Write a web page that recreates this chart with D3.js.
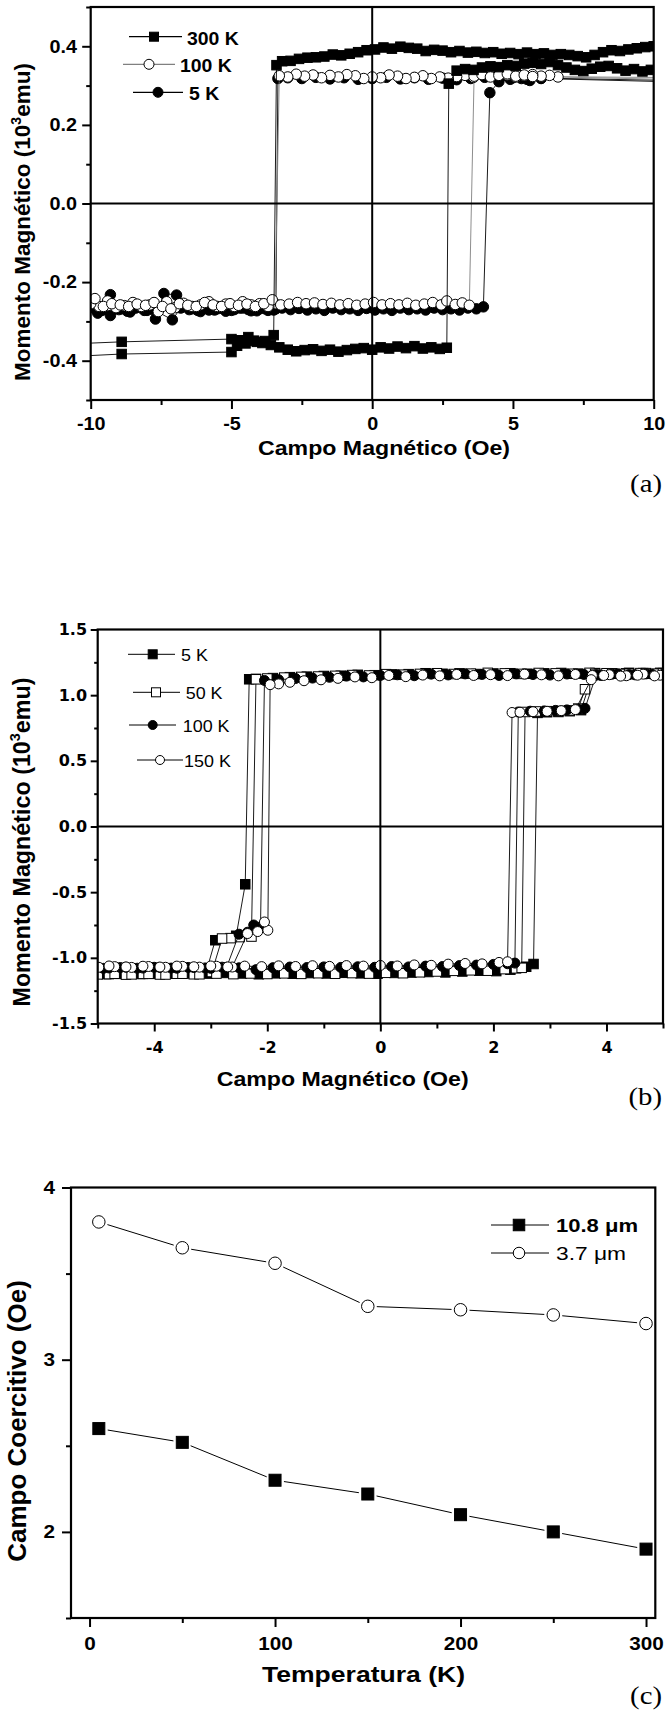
<!DOCTYPE html>
<html>
<head>
<meta charset="utf-8">
<script src="https://cdn.jsdelivr.net/npm/d3@7"></script>
<style>
  body { margin: 0; background: #fff; }
</style>
</head>
<body>
<div id="fig"></div>
<script>

// ---------- data ----------
// (a) loops, field H (Oe) vs moment (10^3 emu), points in measuring order
var a300K = [
  [10.4,0.401],[10.0,0.400],[9.7,0.398],[9.4,0.395],[9.1,0.392],[8.8,0.388],[8.5,0.390],[8.2,0.385],[7.9,0.378],[7.6,0.372],
  [7.3,0.375],[7.0,0.378],[6.7,0.380],[6.4,0.378],[6.1,0.382],[5.8,0.380],[5.5,0.384],[5.2,0.380],[4.9,0.383],[4.6,0.381],
  [4.3,0.385],[4.0,0.383],[3.7,0.386],[3.4,0.384],[3.1,0.388],[2.8,0.385],[2.5,0.389],[2.2,0.391],[1.9,0.388],[1.6,0.394],
  [1.3,0.396],[1.0,0.399],[0.7,0.394],[0.4,0.397],[0.1,0.392],[-0.2,0.390],[-0.5,0.385],[-0.8,0.381],[-1.1,0.377],[-1.4,0.379],
  [-1.7,0.374],[-2.0,0.372],[-2.3,0.371],[-2.6,0.368],[-2.9,0.363],[-3.2,0.362],[-3.4,0.352],
  [-3.5,-0.335],[-3.8,-0.350],[-4.1,-0.352],[-4.4,-0.340],[-4.7,-0.348],[-5.0,-0.345],[-8.9,-0.352],[-10.6,-0.357],
  [-10.6,-0.389],[-8.9,-0.383],[-5.0,-0.378],[-4.8,-0.362],[-4.5,-0.356],[-4.2,-0.349],[-3.9,-0.355],[-3.6,-0.360],[-3.3,-0.366],
  [-3.0,-0.372],[-2.7,-0.376],[-2.4,-0.373],[-2.1,-0.371],[-1.8,-0.375],[-1.5,-0.372],[-1.2,-0.377],[-0.9,-0.373],[-0.6,-0.370],
  [-0.3,-0.368],[0.0,-0.372],[0.3,-0.366],[0.6,-0.369],[0.9,-0.364],[1.2,-0.368],[1.5,-0.363],[1.8,-0.369],[2.1,-0.366],
  [2.4,-0.370],[2.65,-0.367],
  [2.72,0.305],[3.0,0.338],[3.3,0.342],[3.6,0.340],[3.9,0.346],[4.2,0.349],[4.5,0.347],[4.8,0.352],[5.1,0.350],[5.4,0.356],
  [5.7,0.358],[6.0,0.355],[6.3,0.360],[6.6,0.352],[6.9,0.346],[7.2,0.340],[7.5,0.337],[7.8,0.343],[8.1,0.348],[8.4,0.350],
  [8.7,0.344],[9.0,0.338],[9.3,0.342],[9.6,0.336],[9.9,0.340],[10.3,0.330]
];
var a100K = [
  [11.5,0.314],[6.6,0.322],[6.3,0.326],[6.0,0.324],[5.7,0.328],[5.4,0.325],[5.1,0.322],[4.8,0.327],[4.5,0.329],[4.2,0.324],
  [3.9,0.330],[3.6,0.321],[3.3,0.326],[3.0,0.323],[2.7,0.319],[2.4,0.322],[2.1,0.318],[1.8,0.325],[1.5,0.321],[1.2,0.318],
  [0.9,0.324],[0.6,0.327],[0.3,0.320],[0.0,0.322],[-0.3,0.318],[-0.6,0.325],[-0.9,0.328],[-1.2,0.322],[-1.5,0.326],
  [-1.8,0.320],[-2.1,0.327],[-2.4,0.324],[-2.7,0.329],[-3.0,0.322],[-3.3,0.325],
  [-3.45,-0.255],[-3.7,-0.262],[-4.0,-0.255],[-4.3,-0.258],[-4.6,-0.250],[-4.9,-0.262],[-5.2,-0.256],[-5.5,-0.262],[-5.8,-0.250],
  [-6.1,-0.258],[-6.4,-0.262],[-6.7,-0.254],[-7.0,-0.265],[-7.3,-0.250],[-7.6,-0.275],[-7.9,-0.258],[-8.2,-0.262],[-8.5,-0.252],
  [-8.8,-0.260],[-9.1,-0.265],[-9.4,-0.248],[-9.7,-0.262],[-10.0,-0.255],
  [-9.85,-0.242],[-9.55,-0.262],[-9.25,-0.255],[-8.95,-0.258],[-8.65,-0.262],[-8.35,-0.256],[-8.05,-0.259],[-7.75,-0.252],
  [-7.45,-0.262],[-7.15,-0.268],[-6.85,-0.255],[-6.55,-0.259],[-6.25,-0.262],[-5.95,-0.252],[-5.65,-0.258],[-5.35,-0.262],
  [-5.05,-0.255],[-4.75,-0.259],[-4.45,-0.256],[-4.15,-0.262],[-3.85,-0.255],[-3.55,-0.245],[-3.25,-0.258],[-2.95,-0.256],
  [-2.65,-0.252],[-2.35,-0.255],[-2.05,-0.253],[-1.75,-0.257],[-1.45,-0.254],[-1.15,-0.258],[-0.85,-0.255],[-0.55,-0.259],
  [-0.25,-0.256],[0.05,-0.252],[0.35,-0.258],[0.65,-0.255],[0.95,-0.258],[1.25,-0.254],[1.55,-0.259],[1.85,-0.256],
  [2.15,-0.252],[2.45,-0.258],[2.65,-0.248],[2.95,-0.257],[3.2,-0.253],[3.45,-0.259],
  [3.62,0.324],[3.9,0.328],[4.2,0.322],[4.5,0.326],[4.8,0.330],[5.1,0.324],[5.4,0.327],[5.7,0.323],[11.5,0.320]
];
var a5K = [
  [11.5,0.308],[6.0,0.318],[5.5,0.316],[5.0,0.320],[4.5,0.317],[4.0,0.321],[3.5,0.318],[3.0,0.315],[2.5,0.319],[2.0,0.316],
  [1.5,0.320],[1.0,0.317],[0.5,0.321],[0.0,0.318],[-0.5,0.316],[-1.0,0.320],[-1.5,0.317],[-2.0,0.321],[-2.5,0.318],
  [-3.0,0.320],[-3.35,0.318],
  [-3.42,-0.268],[-3.7,-0.272],[-4.0,-0.268],[-4.3,-0.273],[-4.6,-0.266],[-4.9,-0.270],[-5.2,-0.274],[-5.5,-0.268],
  [-5.8,-0.271],[-6.1,-0.275],[-6.4,-0.268],[-6.7,-0.262],[-6.95,-0.233],[-7.4,-0.229],[-7.7,-0.294],[-8.0,-0.272],
  [-8.3,-0.262],[-8.6,-0.276],[-8.9,-0.268],[-9.3,-0.232],[-9.6,-0.272],[-9.9,-0.266],
  [-9.75,-0.279],[-9.3,-0.285],[-9.0,-0.270],[-8.7,-0.274],[-8.4,-0.266],[-8.1,-0.272],[-7.8,-0.269],[-7.1,-0.296],
  [-6.8,-0.266],[-6.5,-0.270],[-6.2,-0.272],[-5.9,-0.266],[-5.6,-0.271],[-5.3,-0.268],[-5.0,-0.272],[-4.7,-0.266],
  [-4.4,-0.270],[-4.1,-0.273],[-3.8,-0.268],[-3.5,-0.271],[-3.2,-0.266],[-2.9,-0.270],[-2.6,-0.267],[-2.3,-0.271],
  [-2.0,-0.268],[-1.7,-0.272],[-1.4,-0.266],[-1.1,-0.270],[-0.8,-0.268],[-0.5,-0.272],[-0.2,-0.267],[0.1,-0.271],
  [0.4,-0.268],[0.7,-0.272],[1.0,-0.266],[1.3,-0.270],[1.6,-0.268],[1.9,-0.271],[2.2,-0.266],[2.5,-0.270],[2.8,-0.268],
  [3.1,-0.271],[3.4,-0.266],[3.7,-0.268],[3.95,-0.263],
  [4.18,0.282],[4.5,0.310],[4.9,0.316],[5.3,0.318],[5.6,0.313],[6.0,0.319],[11.5,0.312]
];

// (b) loops
var b5K = [
  [5.0,1.168],[4.7,1.165],[4.4,1.170],[4.1,1.166],[3.8,1.168],[3.5,1.164],[3.2,1.169],[2.9,1.166],[2.6,1.163],[2.3,1.167],
  [2.0,1.165],[1.7,1.161],[1.4,1.166],[1.1,1.163],[0.8,1.167],[0.5,1.160],[0.2,1.158],[-0.1,1.152],[-0.4,1.155],[-0.7,1.148],
  [-1.0,1.146],[-1.3,1.141],[-1.6,1.137],[-1.9,1.130],[-2.2,1.124],[-2.32,1.121],
  [-2.39,-0.440],[-2.55,-0.832],[-2.92,-0.866],[-3.08,-1.105],[-3.4,-1.118],[-3.7,-1.114],[-4.0,-1.120],[-4.3,-1.116],
  [-4.6,-1.122],[-4.9,-1.118],
  [-4.85,-1.124],[-4.55,-1.119],[-4.25,-1.123],[-3.95,-1.117],[-3.65,-1.121],[-3.35,-1.116],[-3.05,-1.120],[-2.75,-1.115],
  [-2.45,-1.119],[-2.15,-1.125],[-1.85,-1.118],[-1.55,-1.121],[-1.25,-1.116],[-0.95,-1.119],[-0.65,-1.114],[-0.35,-1.118],
  [-0.05,-1.121],[0.25,-1.115],[0.55,-1.112],[0.85,-1.108],[1.15,-1.111],[1.45,-1.104],[1.75,-1.098],[2.05,-1.101],
  [2.3,-1.090],[2.58,-1.068],[2.71,-1.047],
  [2.78,0.865],[2.95,0.870],[3.15,0.872],[3.35,0.878],[3.55,0.886],[3.75,1.150],[4.05,1.163],[4.35,1.166],[4.65,1.168],[4.95,1.170]
];
var b50K = [
  [4.9,1.164],[4.6,1.168],[4.3,1.162],[4.0,1.167],[3.7,1.170],[3.4,1.163],[3.1,1.166],[2.8,1.169],[2.5,1.162],[2.2,1.166],
  [1.9,1.170],[1.6,1.164],[1.3,1.161],[1.0,1.167],[0.7,1.162],[0.4,1.156],[0.1,1.160],[-0.2,1.150],[-0.5,1.153],[-0.8,1.147],
  [-1.1,1.142],[-1.4,1.139],[-1.7,1.134],[-2.0,1.127],[-2.2,1.121],
  [-2.28,-0.838],[-2.49,-0.842],[-2.65,-0.850],[-2.8,-0.853],[-2.98,-1.108],[-3.3,-1.125],[-3.6,-1.121],[-3.9,-1.127],
  [-4.2,-1.122],[-4.5,-1.128],[-4.8,-1.124],[-5.0,-1.126],
  [-4.7,-1.121],[-4.4,-1.126],[-4.1,-1.122],[-3.8,-1.127],[-3.5,-1.121],[-3.2,-1.125],[-2.9,-1.120],[-2.6,-1.124],
  [-2.3,-1.119],[-2.0,-1.123],[-1.7,-1.118],[-1.4,-1.122],[-1.1,-1.117],[-0.8,-1.121],[-0.5,-1.116],[-0.2,-1.120],
  [0.1,-1.114],[0.4,-1.117],[0.7,-1.110],[1.0,-1.104],[1.3,-1.099],[1.6,-1.095],[1.9,-1.098],[2.2,-1.086],[2.4,-1.080],
  [2.5,-1.076],
  [2.56,0.872],[2.75,0.876],[2.95,0.878],[3.15,0.880],[3.35,0.884],[3.5,0.898],[3.62,1.045],[3.8,1.162],[4.1,1.166],
  [4.4,1.163],[4.7,1.168],[5.0,1.166]
];
var b100K = [
  [4.8,1.160],[4.5,1.155],[4.2,1.162],[3.9,1.150],[3.6,1.158],[3.3,1.161],[3.0,1.153],[2.7,1.157],[2.4,1.162],[2.1,1.150],
  [1.8,1.158],[1.5,1.162],[1.2,1.154],[0.9,1.160],[0.6,1.148],[0.3,1.155],[0.0,1.150],[-0.3,1.139],[-0.6,1.145],[-0.9,1.136],
  [-1.2,1.130],[-1.5,1.127],[-1.8,1.118],[-2.05,1.112],
  [-2.12,-0.765],[-2.24,-0.750],[-2.35,-0.805],[-2.5,-0.820],[-2.72,-1.072],[-3.0,-1.080],[-3.3,-1.074],[-3.6,-1.079],
  [-3.9,-1.073],[-4.2,-1.078],[-4.5,-1.072],[-4.8,-1.077],
  [-4.9,-1.080],[-4.6,-1.074],[-4.3,-1.079],[-4.0,-1.072],[-3.7,-1.078],[-3.4,-1.073],[-3.1,-1.077],[-2.8,-1.071],
  [-2.5,-1.076],[-2.2,-1.090],[-1.9,-1.075],[-1.6,-1.070],[-1.3,-1.074],[-1.0,-1.069],[-0.7,-1.073],[-0.4,-1.068],
  [-0.1,-1.072],[0.2,-1.066],[0.5,-1.069],[0.8,-1.063],[1.1,-1.066],[1.4,-1.059],[1.7,-1.055],[2.0,-1.050],[2.25,-1.045],
  [2.38,-1.040],
  [2.44,0.872],[2.65,0.878],[2.9,0.880],[3.1,0.884],[3.3,0.888],[3.5,0.893],[3.62,0.900],[3.82,1.155],[4.1,1.160],
  [4.4,1.156],[4.7,1.162],[5.0,1.158]
];
var b150K = [
  [4.95,1.152],[4.65,1.160],[4.35,1.148],[4.05,1.156],[3.75,1.150],[3.45,1.158],[3.15,1.147],[2.85,1.155],[2.55,1.160],
  [2.25,1.149],[1.95,1.156],[1.65,1.150],[1.35,1.158],[1.05,1.147],[0.75,1.153],[0.45,1.141],[0.15,1.150],[-0.15,1.133],
  [-0.45,1.139],[-0.75,1.128],[-1.05,1.117],[-1.35,1.110],[-1.6,1.098],[-1.8,1.086],[-1.95,1.080],
  [-1.99,-0.790],[-2.05,-0.727],[-2.17,-0.800],[-2.35,-0.815],[-2.62,-1.070],[-2.9,-1.064],[-3.2,-1.071],[-3.5,-1.065],
  [-3.8,-1.072],[-4.1,-1.066],[-4.4,-1.073],[-4.7,-1.067],[-4.98,-1.072],
  [-4.8,-1.062],[-4.5,-1.069],[-4.2,-1.064],[-3.9,-1.070],[-3.6,-1.063],[-3.3,-1.068],[-3.0,-1.062],[-2.7,-1.069],
  [-2.4,-1.063],[-2.1,-1.067],[-1.8,-1.061],[-1.5,-1.066],[-1.2,-1.060],[-0.9,-1.065],[-0.6,-1.059],[-0.3,-1.063],
  [0.0,-1.058],[0.3,-1.062],[0.6,-1.054],[0.9,-1.057],[1.2,-1.048],[1.5,-1.043],[1.8,-1.046],[2.1,-1.035],[2.25,-1.030],
  [2.33,0.868],[2.47,0.870],[2.7,0.874],[2.95,0.877],[3.2,0.882],[3.45,0.890],[3.73,1.118],[3.95,1.150],[4.25,1.145],
  [4.55,1.152],[4.85,1.147]
];

// (c) coercive field vs temperature
var temps = [5, 50, 100, 150, 200, 250, 300];
var hc108 = [2.60, 2.52, 2.30, 2.22, 2.10, 2.00, 1.90];
var hc37 = [3.80, 3.65, 3.56, 3.31, 3.29, 3.26, 3.21];

var legendA = ["300 K", "100 K", "5 K"];
var legendB = ["5 K", "50 K", "100 K", "150 K"];
var legendC = ["10.8 \u03bcm", "3.7 \u03bcm"];

// ---------- helpers ----------
var SANS = "'Liberation Sans', Arial, Helvetica, sans-serif";

var svg = d3.select("#fig").append("svg")
  .attr("width", 667).attr("height", 1711)
  .style("background", "#fff");

// text with optional horizontal stretch and rotation
function label(g, str, x, y, o) {
  var tr = "translate(" + x + "," + y + ")";
  if (o.rot) tr += " rotate(" + o.rot + ")";
  if (o.sx) tr += " scale(" + o.sx + ",1)";
  var t = g.append("text")
    .attr("transform", tr)
    .attr("text-anchor", o.anchor || "start")
    .style("font-family", o.font || SANS)
    .style("font-size", o.size + "px")
    .style("font-weight", o.weight || "normal")
    .attr("fill", "#000");
  if (str !== null) t.text(str);
  if (o.len) t.attr("textLength", o.len).attr("lengthAdjust", "spacingAndGlyphs");
  return t;
}

function yTitle(g, x, y, size, pre, sup, post) {
  var t = label(g, null, x, y, {rot: -90, anchor: "middle", size: size, weight: "bold"});
  t.append("tspan").text(pre);
  if (sup) {
    t.append("tspan").text(sup).style("font-size", (size * 0.62) + "px").attr("dy", -size * 0.42);
    t.append("tspan").text(post).attr("dy", size * 0.42);
  }
}

function axes(g, x, y, c) {
  var x0 = x.range()[0], x1 = x.range()[1], y0 = y.range()[0], y1 = y.range()[1];

  g.append("g").attr("transform", "translate(0," + y0 + ")")
    .call(d3.axisBottom(x).tickValues(c.xMinor).tickSize(c.xMinorLen).tickFormat(""));
  var gx = g.append("g").attr("transform", "translate(0," + y0 + ")")
    .call(d3.axisBottom(x).tickValues(c.xMajor).tickSize(c.xMajorLen).tickPadding(c.xPad).tickFormat(c.xFmt));
  g.append("g").attr("transform", "translate(" + x0 + ",0)")
    .call(d3.axisLeft(y).tickValues(c.yMinor).tickSize(c.yMinorLen).tickFormat(""));
  var gy = g.append("g").attr("transform", "translate(" + x0 + ",0)")
    .call(d3.axisLeft(y).tickValues(c.yMajor).tickSize(c.yMajorLen).tickPadding(c.yPad).tickFormat(c.yFmt));

  g.selectAll(".domain").remove();
  g.selectAll(".tick line").attr("stroke", "#000").attr("stroke-width", 2);
  [gx, gy].forEach(function (a) {
    a.selectAll("text")
      .attr("fill", "#000")
      .style("font-family", c.font || SANS)
      .style("font-size", c.size + "px")
      .style("font-weight", "bold")
      .attr("transform", "scale(" + (c.sx || 1) + ",1)");
  });

  if (c.zero) {
    g.append("line").attr("x1", x0).attr("x2", x1).attr("y1", y(0)).attr("y2", y(0))
      .attr("stroke", "#000").attr("stroke-width", 2);
    g.append("line").attr("x1", x(0)).attr("x2", x(0)).attr("y1", y0).attr("y2", y1)
      .attr("stroke", "#000").attr("stroke-width", 2);
  }
  g.append("rect")
    .attr("x", x0).attr("y", y1).attr("width", x1 - x0).attr("height", y0 - y1)
    .attr("fill", "none").attr("stroke", "#000").attr("stroke-width", 2.2);
}

function marker(g, type, cx, cy, s) {
  if (type === "sq" || type === "osq") {
    g.append("rect").attr("x", cx - s / 2).attr("y", cy - s / 2).attr("width", s).attr("height", s)
      .attr("fill", type === "sq" ? "#000" : "#fff").attr("stroke", "#000").attr("stroke-width", 1);
  } else {
    g.append("circle").attr("cx", cx).attr("cy", cy).attr("r", s / 2)
      .attr("fill", type === "dot" ? "#000" : "#fff").attr("stroke", "#000").attr("stroke-width", 1);
  }
}

function loop(g, pts, x, y, type, s, lineColor) {
  var line = d3.line().x(function (d) { return x(d[0]); }).y(function (d) { return y(d[1]); });
  g.append("path").datum(pts).attr("d", line)
    .attr("fill", "none").attr("stroke", lineColor).attr("stroke-width", 0.9);
  pts.forEach(function (d) { marker(g, type, x(d[0]), y(d[1]), s); });
}

function clip(id, x, y) {
  svg.append("clipPath").attr("id", id).append("rect")
    .attr("x", x.range()[0]).attr("y", y.range()[1])
    .attr("width", x.range()[1] - x.range()[0]).attr("height", y.range()[0] - y.range()[1]);
}

function fmt1(d) { return d.toFixed(1); }
function fmt0(d) { return String(d); }

// ---------- (a) ----------
var xA = d3.scaleLinear().domain([-10, 10]).range([90.7, 653.7]);
var yA = d3.scaleLinear().domain([-0.5, 0.5]).range([400, 7]);
var gA = svg.append("g");
clip("clipA", xA, yA);
var dA = gA.append("g").attr("clip-path", "url(#clipA)");
loop(dA, a5K, xA, yA, "dot", 10.5, "#000");
loop(dA, a100K, xA, yA, "circ", 10.5, "#808080");
loop(dA, a300K, xA, yA, "sq", 9.5, "#000");

axes(gA, xA, yA, {
  xMajor: [-10, -5, 0, 5, 10], xMinor: [-7.5, -2.5, 2.5, 7.5], xMajorLen: 9, xMinorLen: 5, xPad: 8, xFmt: fmt0,
  yMajor: [-0.4, -0.2, 0, 0.2, 0.4], yMinor: [-0.5, -0.3, -0.1, 0.1, 0.3, 0.5], yMajorLen: 8.5, yMinorLen: 4.5, yPad: 4, yFmt: fmt1,
  size: 18, sx: 1.1, zero: true
});

[["sq", 129, 182, 154, 36.7, 187, 45, "#000"],
 ["circ", 123, 175, 149, 64.3, 180, 72.3, "#808080"],
 ["dot", 133, 183, 158, 92.3, 189, 100, "#000"]].forEach(function (r, i) {
  gA.append("line").attr("x1", r[1]).attr("x2", r[2]).attr("y1", r[4]).attr("y2", r[4])
    .attr("stroke", r[7]).attr("stroke-width", 1.2);
  marker(gA, r[0], r[3], r[4], r[0] === "sq" ? 9 : 10);
  label(gA, legendA[i], r[5], r[6], {size: 18, weight: "bold", sx: 1.08});
});

yTitle(gA, 30, 222, 22.5, "Momento Magnético (10", "3", "emu)");
label(gA, "Campo Magnético (Oe)", 384, 455, {anchor: "middle", size: 19.5, weight: "bold", len: 252});
label(gA, "(a)", 662, 492, {anchor: "end", size: 25, font: "'Liberation Serif', serif", sx: 1.15});

// ---------- (b) ----------
var xB = d3.scaleLinear().domain([-5, 5]).range([97.7, 663]);
var yB = d3.scaleLinear().domain([-1.5, 1.5]).range([1023.5, 629.5]);
var gB = svg.append("g");
clip("clipB", xB, yB);
var dB = gB.append("g").attr("clip-path", "url(#clipB)");
loop(dB, b5K, xB, yB, "sq", 9.5, "#000");
loop(dB, b50K, xB, yB, "osq", 9.5, "#000");
loop(dB, b100K, xB, yB, "dot", 10, "#000");
loop(dB, b150K, xB, yB, "circ", 10, "#000");

axes(gB, xB, yB, {
  xMajor: [-4, -2, 0, 2, 4], xMinor: [-5, -3, -1, 1, 3, 5], xMajorLen: 8, xMinorLen: 5, xPad: 10, xFmt: fmt0,
  yMajor: [-1.5, -1, -0.5, 0, 0.5, 1, 1.5], yMinor: [-1.25, -0.75, -0.25, 0.25, 0.75, 1.25], yMajorLen: 7, yMinorLen: 3.5, yPad: 3.7, yFmt: fmt1,
  size: 16, font: "'DejaVu Sans', sans-serif", zero: true
});

[["sq", 128, 175, 152.7, 654.3, 181, 661],
 ["osq", 133, 180, 156, 692.3, 185.7, 699],
 ["dot", 129, 176, 152.7, 725, 182.7, 731.7],
 ["circ", 137, 183, 160, 760, 184, 767]].forEach(function (r, i) {
  gB.append("line").attr("x1", r[1]).attr("x2", r[2]).attr("y1", r[4]).attr("y2", r[4])
    .attr("stroke", "#000").attr("stroke-width", 1);
  marker(gB, r[0], r[3], r[4], 9);
  label(gB, legendB[i], r[5], r[6], {size: 16.3, sx: 1.1});
});

yTitle(gB, 30, 842, 23.3, "Momento Magnético (10", "3", "emu)");
label(gB, "Campo Magnético (Oe)", 342.7, 1086, {anchor: "middle", size: 19.5, weight: "bold", len: 252});
label(gB, "(b)", 662, 1105, {anchor: "end", size: 25, font: "'Liberation Serif', serif", sx: 1.15});

// ---------- (c) ----------
var xC = d3.scaleLinear().domain([-10, 305]).range([71, 655.3]);
var yC = d3.scaleLinear().domain([1.5, 4]).range([1618, 1187.5]);
var gC = svg.append("g");

// lines stop short of the markers
function gapLine(g, xs, ys, gap) {
  for (var i = 0; i < xs.length - 1; i++) {
    var ax = xC(xs[i]), ay = yC(ys[i]), bx = xC(xs[i + 1]), by = yC(ys[i + 1]);
    var L = Math.hypot(bx - ax, by - ay), ux = (bx - ax) / L, uy = (by - ay) / L;
    g.append("line")
      .attr("x1", ax + ux * gap).attr("y1", ay + uy * gap)
      .attr("x2", bx - ux * gap).attr("y2", by - uy * gap)
      .attr("stroke", "#000").attr("stroke-width", 1);
  }
}
gapLine(gC, temps, hc37, 9);
gapLine(gC, temps, hc108, 9);
temps.forEach(function (t, i) {
  marker(gC, "circ", xC(t), yC(hc37[i]), 12.5);
  marker(gC, "sq", xC(t), yC(hc108[i]), 12);
});

axes(gC, xC, yC, {
  xMajor: [0, 100, 200, 300], xMinor: [50, 150, 250], xMajorLen: 9, xMinorLen: 5, xPad: 10, xFmt: fmt0,
  yMajor: [2, 3, 4], yMinor: [1.5, 2.5, 3.5], yMajorLen: 9, yMinorLen: 5, yPad: 5, yFmt: fmt0,
  size: 18, sx: 1.15
});

[["sq", 491, 549, 519, 1225, 556, 1232, "bold", 1.16],
 ["circ", 491, 549, 519, 1253, 556, 1260, "normal", 1.2]].forEach(function (r, i) {
  gC.append("line").attr("x1", r[1]).attr("x2", r[2]).attr("y1", r[4]).attr("y2", r[4])
    .attr("stroke", "#000").attr("stroke-width", 1);
  marker(gC, r[0], r[3], r[4], 11.5);
  label(gC, legendC[i], r[5], r[6], {size: 19, weight: r[7], sx: r[8]});
});

yTitle(gC, 26, 1421, 26, "Campo Coercitivo (Oe)");
label(gC, "Temperatura (K)", 363.5, 1682, {anchor: "middle", size: 22, weight: "bold", len: 203});
label(gC, "(c)", 662, 1704, {anchor: "end", size: 25, font: "'Liberation Serif', serif", sx: 1.15});

</script>
</body>
</html>
